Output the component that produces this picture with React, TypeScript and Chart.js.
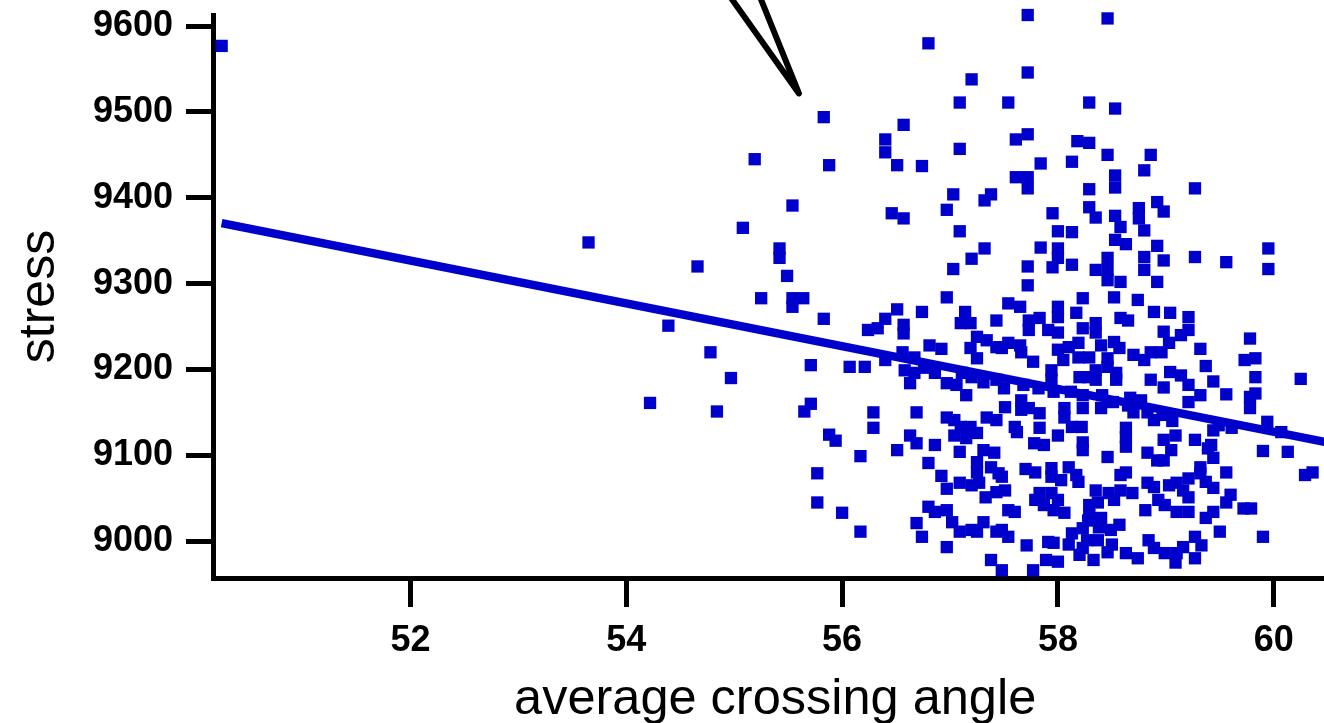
import React, { useEffect, useRef } from "react";
import { Chart, registerables } from "chart.js";

Chart.register(...registerables);

// average crossing angle (x) and stress (y) of every sample
const crossingAngle = [
  50.25, 53.65, 54.39, 54.66, 54.78, 54.97, 54.22, 54.84, 55.08, 55.54,
  55.42, 55.42, 55.49, 55.25, 55.54, 55.64, 55.54, 55.83, 55.71, 55.71,
  55.65, 55.88, 55.94, 56.17, 55.77, 55.77, 56.0, 56.17, 55.83, 55.88,
  55.19, 57.72, 58.46, 56.8, 57.2, 57.72, 57.09, 57.54, 58.29, 58.53,
  56.57, 56.4, 56.4, 57.09, 56.51, 56.74, 57.72, 57.61, 58.18, 58.29,
  58.46, 58.86, 58.8, 57.84, 58.13, 58.53, 58.53, 57.61, 57.72, 57.72,
  58.29, 59.27, 57.03, 57.38, 57.32, 56.97, 57.95, 58.29, 58.35, 58.53,
  58.58, 58.75, 58.75, 58.92, 58.98, 58.8, 56.46, 56.57, 57.09, 58.0,
  58.13, 57.32, 57.84, 58.0, 58.0, 57.95, 58.13, 58.53, 58.63, 58.92,
  57.2, 57.03, 57.72, 58.46, 58.35, 58.46, 58.46, 58.58, 58.8, 58.98,
  58.8, 58.92, 59.27, 59.56, 59.95, 59.95, 57.72,
  56.97, 56.51, 56.74, 57.14, 56.4, 56.57, 56.57, 56.24, 56.33, 57.1,
  57.19, 57.43, 57.25, 57.34, 57.19, 57.25, 57.43, 56.81, 56.92, 56.07,
  56.21, 56.4, 56.56, 56.67, 56.58, 56.67, 56.63, 56.76, 56.86, 56.97,
  57.06, 57.15, 57.11, 57.2, 57.31, 57.43, 56.29, 56.69, 56.97, 57.04,
  57.34, 57.43, 56.29, 57.1, 57.19,
  56.63, 56.69, 56.86, 57.04, 57.15, 57.09, 57.25, 56.51, 57.31, 57.41,
  57.25, 57.25, 57.38, 57.45, 56.8, 56.92, 56.97, 57.09, 57.2, 57.27,
  57.33, 57.43, 56.8, 56.86, 56.97, 57.02, 57.09, 57.2, 57.25, 57.31,
  57.43, 56.69, 56.74, 56.97, 57.38,
  58.23, 58.52, 58.74, 57.54, 57.65, 58.0, 58.0, 58.17, 57.73, 57.83,
  57.73, 57.91, 58.0, 58.23, 58.35, 58.35, 58.58, 58.65, 58.89, 57.54,
  57.65, 57.48, 57.66, 57.77, 58.0, 58.05, 58.1, 58.19, 58.19, 58.29,
  58.4, 58.52, 58.57, 58.46, 58.46, 58.7, 58.8, 58.86, 57.94, 57.94,
  58.2, 58.28, 58.35, 58.35, 58.54, 58.54, 58.86, 57.68, 57.82, 58.12,
  58.41, 58.67, 57.51, 57.66, 57.66, 57.73, 57.83, 58.06, 58.06, 58.23,
  58.4, 58.51, 58.65, 58.7, 58.83, 58.77, 57.6, 57.83, 58.13, 58.22,
  58.63, 58.89,
  57.62, 58.0, 58.23, 58.23, 58.63, 58.63, 57.78, 57.87, 58.83, 58.92,
  58.46, 57.7, 57.48, 57.51, 57.94, 57.94, 58.1, 58.17, 58.19, 58.58,
  58.63, 58.83, 58.89, 57.83, 57.94, 58.0, 58.35, 58.47, 58.37, 58.52,
  58.69, 57.54, 57.6, 57.96, 58.06, 58.29, 58.29, 58.4, 58.81, 57.48,
  57.54, 57.71, 57.91, 57.96, 58.13, 58.23, 58.27, 58.23, 58.2, 58.38,
  58.49, 58.57, 58.37, 58.46, 58.63, 58.74, 58.84, 58.89, 57.89, 58.0,
  57.77, 57.48,
  59.04, 59.21, 59.21, 58.98, 59.14, 59.03, 58.96, 59.32, 59.78, 59.73,
  59.83, 59.37, 59.04, 59.14, 59.21, 59.44, 59.83, 60.25, 58.98, 59.56,
  59.32, 59.21, 59.78, 59.78, 59.83, 59.94, 59.06, 58.97,
  58.98, 59.09, 59.05, 58.98, 59.27, 59.42, 59.39, 59.44, 59.32, 59.32,
  59.56, 59.9, 60.13, 60.29, 60.36, 59.21, 59.1, 59.03, 59.16, 59.37,
  59.44, 59.21, 59.6, 59.56, 59.72, 59.79, 58.99, 58.93, 59.1, 59.21,
  59.44, 59.37, 59.5, 59.9, 59.27, 59.33, 59.16, 59.1, 58.99, 59.09,
  59.27, 59.49, 59.61, 60.07, 59.44,
  57.79, 58.03, 57.87, 57.79, 58.58, 58.28, 58.1, 58.33, 58.5, 57.5,
  57.96, 58.23,
];

const stress = [
  9577, 9348, 9251, 9320, 9220, 9190, 9161, 9151, 9365, 9391,
  9341, 9330, 9309, 9283, 9283, 9283, 9273, 9259, 9205, 9160,
  9151, 9124, 9117, 9099, 9079, 9045, 9033, 9011, 9494, 9438,
  9445, 9613, 9609, 9580, 9538, 9546, 9511, 9511, 9511, 9504,
  9485, 9468, 9453, 9457, 9438, 9437, 9474, 9468, 9466, 9464,
  9450, 9450, 9432, 9440, 9442, 9426, 9412, 9424, 9424, 9411,
  9410, 9411, 9404, 9404, 9397, 9386, 9382, 9389, 9377, 9379,
  9366, 9388, 9376, 9395, 9384, 9362, 9382, 9376, 9361, 9361,
  9360, 9341, 9342, 9341, 9330, 9319, 9322, 9351, 9346, 9344,
  9329, 9317, 9320, 9330, 9316, 9316, 9304, 9302, 9331, 9327,
  9316, 9302, 9331, 9325, 9341, 9317, 9298,
  9284, 9270, 9267, 9267, 9259, 9252, 9242, 9246, 9248, 9254,
  9254, 9257, 9238, 9234, 9225, 9213, 9226, 9228, 9224, 9203,
  9203, 9211, 9220, 9214, 9199, 9196, 9184, 9202, 9196, 9184,
  9182, 9170, 9196, 9191, 9185, 9188, 9150, 9150, 9144, 9141,
  9144, 9141, 9132, 9133, 9133,
  9123, 9114, 9112, 9123, 9120, 9104, 9126, 9106, 9106, 9103,
  9092, 9080, 9086, 9079, 9091, 9076, 9061, 9068, 9065, 9068,
  9051, 9057, 9040, 9034, 9036, 9022, 9011, 9013, 9011, 9022,
  9011, 9021, 9005, 8993, 8978,
  9283, 9284, 9281, 9277, 9273, 9273, 9261, 9266, 9257, 9260,
  9246, 9246, 9243, 9248, 9254, 9243, 9260, 9257, 9267, 9231,
  9228, 9225, 9220, 9209, 9223, 9211, 9226, 9231, 9214, 9214,
  9228, 9232, 9225, 9213, 9203, 9217, 9211, 9220, 9199, 9188,
  9191, 9191, 9199, 9188, 9196, 9188, 9188, 9182, 9178, 9174,
  9170, 9167, 9156, 9164, 9153, 9155, 9149, 9155, 9144, 9155,
  9155, 9162, 9158, 9150, 9150, 9164, 9133, 9132, 9133, 9133,
  9132, 9141,
  9127, 9123, 9115, 9106, 9121, 9110, 9114, 9112, 9103, 9094,
  9098, 9084, 9075, 9059, 9085, 9075, 9086, 9077, 9069, 9077,
  9080, 9068, 9063, 9056, 9056, 9048, 9059, 9056, 9045, 9048,
  9056, 9036, 9034, 9036, 9033, 9042, 9030, 9027, 9036, 9013,
  9005, 8995, 8999, 8998, 9009, 9015, 9001, 8992, 8984, 9016,
  9013, 9019, 9001, 8987, 8986, 8980, 9001, 8992, 8978, 8976,
  8966, 8966,
  9266, 9261, 9246, 9244, 9240, 9231, 9220, 9224, 9236, 9211,
  9213, 9204, 9197, 9193, 9182, 9186, 9191, 9189, 9179, 9171,
  9170, 9162, 9168, 9155, 9172, 9139, 9140, 9147,
  9118, 9123, 9106, 9094, 9118, 9112, 9108, 9097, 9086, 9079,
  9080, 9105, 9104, 9077, 9080, 9073, 9068, 9065, 9059, 9069,
  9062, 9051, 9054, 9045, 9038, 9038, 9042, 9048, 9034, 9034,
  9034, 9027, 9011, 9005, 9005, 8995, 8993, 8986, 8986, 8975,
  8980, 9135, 9132, 9127, 9129,
  9080, 9071, 9042, 9048, 9059, 9024, 8996, 8978, 8996, 9178,
  9174, 9170,
];

// least-squares fit line end points
const fitX = [50.25, 60.6];
const fitY = [9370.5, 9112.4];

// black annotation arrow (V shape) at the top
const arrowX = [54.93, 55.6, 55.22];
const arrowY = [9640, 9521.6, 9640];

// axis ticks
const xTickValues = [52, 54, 56, 58, 60];
const yTickValues = [9000, 9100, 9200, 9300, 9400, 9500, 9600];

const BLUE = "#0000CC";
const FONT = "'Liberation Sans', Arial, Helvetica, sans-serif";

export default function App() {
  const ref = useRef<HTMLCanvasElement>(null);

  useEffect(() => {
    const canvas = ref.current;
    if (!canvas) return;
    const points = crossingAngle.map((x, i) => ({ x, y: stress[i] }));
    const fit = fitX.map((x, i) => ({ x, y: fitY[i] }));
    const arrow = arrowX.map((x, i) => ({ x, y: arrowY[i] }));

    const chart = new Chart(canvas, {
      type: "scatter",
      data: {
        datasets: [
          {
            type: "line",
            data: fit,
            borderColor: BLUE,
            borderWidth: 8.5,
            pointRadius: 0,
            fill: false,
            order: 2,
          },
          {
            type: "scatter",
            data: points,
            backgroundColor: BLUE,
            borderWidth: 0,
            pointStyle: "rect",
            pointRadius: 8.7,
            clip: false,
            order: 1,
          },
          {
            type: "line",
            data: arrow,
            borderColor: "#000",
            borderWidth: 6,
            pointRadius: 0,
            fill: false,
            clip: false,
            borderCapStyle: "round",
            borderJoinStyle: "round",
            order: 0,
          },
        ] as any,
      },
      options: {
        responsive: false,
        animation: false,
        events: [],
        layout: { padding: { top: 15, left: 0, right: 0, bottom: 0 } },
        plugins: { legend: { display: false }, tooltip: { enabled: false } },
        scales: {
          x: {
            type: "linear",
            position: "bottom",
            min: 50.17,
            max: 60.589,
            afterBuildTicks: (s: any) => {
              s.ticks = xTickValues.map((v) => ({ value: v }));
            },
            afterFit: (s: any) => {
              s.height = 145;
              s.paddingLeft = 0;
              s.paddingRight = 0;
            },
            grid: {
              display: true,
              drawOnChartArea: false,
              drawTicks: true,
              tickLength: 29,
              lineWidth: 5,
              tickWidth: 5,
              color: "#000",
              tickColor: "#000",
            },
            border: { display: true, width: 5, color: "#000" },
            ticks: {
              color: "#000",
              padding: 12,
              maxRotation: 0,
              autoSkip: false,
              font: { family: FONT, size: 36, weight: "bold" },
              callback: (v: any) => String(v),
            },
            title: {
              display: true,
              text: "average crossing angle",
              color: "#000",
              font: { family: FONT, size: 50.5, lineHeight: 0.92 },
              padding: { top: 0, bottom: 0 },
            },
          },
          y: {
            type: "linear",
            position: "left",
            min: 8957,
            max: 9613,
            afterBuildTicks: (s: any) => {
              s.ticks = yTickValues.map((v) => ({ value: v }));
            },
            afterFit: (s: any) => {
              s.width = 213;
              s.paddingTop = 0;
              s.paddingBottom = 0;
            },
            grid: {
              display: true,
              drawOnChartArea: false,
              drawTicks: true,
              tickLength: 27,
              lineWidth: 5,
              tickWidth: 5,
              color: "#000",
              tickColor: "#000",
            },
            border: { display: true, width: 5, color: "#000" },
            ticks: {
              color: "#000",
              padding: 13,
              autoSkip: false,
              font: { family: FONT, size: 36, weight: "bold" },
              callback: (v: any) => String(v),
            },
            title: {
              display: true,
              text: "stress",
              color: "#000",
              font: { family: FONT, size: 50, lineHeight: 1.12 },
              padding: { top: 12, bottom: 0 },
            },
          },
        },
      } as any,
    });
    return () => chart.destroy();
  }, []);

  return (
    <div
      style={{
        position: "absolute",
        left: 0,
        top: 0,
        width: 1324,
        height: 723,
        overflow: "hidden",
        background: "#fff",
      }}
    >
      <canvas
        ref={ref}
        width={1346}
        height={723}
        style={{ display: "block", width: 1346, height: 723 }}
      />
    </div>
  );
}
